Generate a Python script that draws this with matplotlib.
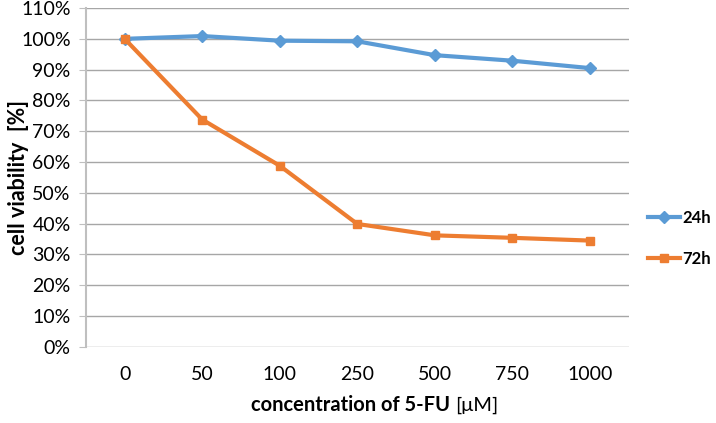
import matplotlib
matplotlib.use("Agg")
import matplotlib.pyplot as plt
from matplotlib.ticker import PercentFormatter

# dados
concentracoes = ['0', '50', '100', '250', '500', '750', '1000']
viab_24h = [100.0, 100.9, 99.4, 99.2, 94.7, 92.9, 90.5]
viab_72h = [100.0, 73.8, 58.8, 39.9, 36.2, 35.4, 34.5]

plt.rcParams['font.family'] = ['Lato', 'DejaVu Sans']

fig = plt.figure(figsize=(7.16, 4.23), dpi=100)
ax = fig.add_axes([0.120, 0.180, 0.758, 0.801])

x = list(range(len(concentracoes)))

l1, = ax.plot(x, viab_24h, color='#5B9BD5', linewidth=3, marker='D',
              markersize=6, label='24h')
l2, = ax.plot(x, viab_72h, color='#ED7D31', linewidth=3, marker='s',
              markersize=6, label='72h')

ax.set_xlim(-0.5, len(concentracoes) - 0.5)
ax.set_ylim(0, 110)
ax.set_yticks(range(0, 111, 10))
ax.yaxis.set_major_formatter(PercentFormatter(decimals=0))
ax.set_xticks(x)
ax.set_xticklabels(concentracoes)

ax.grid(axis='y', color='#A6A6A6', linewidth=1)
ax.set_axisbelow(True)
for s in ['top', 'right', 'bottom']:
    ax.spines[s].set_visible(False)
ax.spines['left'].set_color('#BFBFBF')
ax.spines['left'].set_linewidth(1.5)

ax.tick_params(axis='y', labelsize=14, length=5, color='#BFBFBF', pad=6)
ax.tick_params(axis='x', labelsize=14, length=0, pad=14)

# rótulo do eixo y
fig.text(0.026, 0.580, 'cell viability  [%]', fontsize=15.5, fontweight='bold',
         rotation=90, ha='center', va='center')

# rótulo do eixo x (parte em negrito + parte normal)
fig.text(0.636, 0.028, 'concentration of 5-FU ', fontsize=14.5,
         fontweight='bold', ha='right', va='baseline')
fig.text(0.636, 0.028, '[\u03bcM]', fontsize=14.5, ha='left', va='baseline')

# legenda
fig.legend(handles=[l1, l2], loc='center left', bbox_to_anchor=(0.905, 0.437),
           frameon=False, handlelength=1.9, labelspacing=1.5, borderpad=0,
           borderaxespad=0, prop={'weight': 'bold', 'size': 12},
           handletextpad=0.15, numpoints=1)

fig.savefig('out.png', dpi=100)
